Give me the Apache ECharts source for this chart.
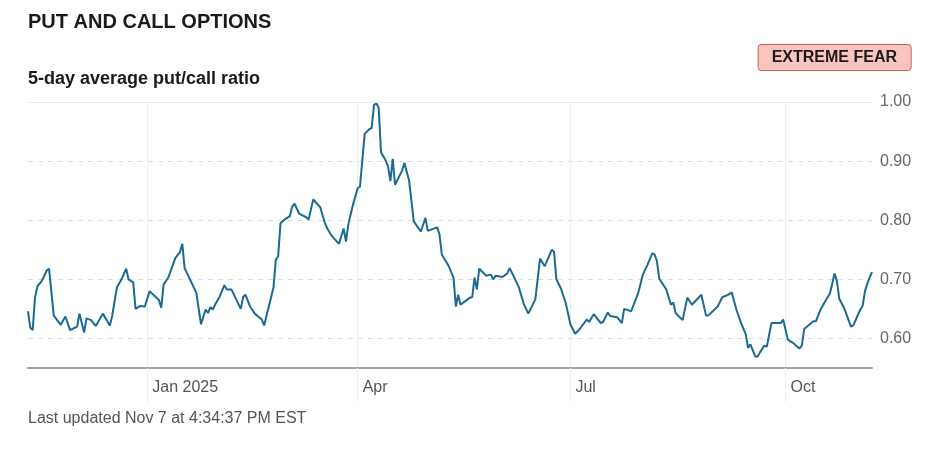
<!DOCTYPE html>
<html>
<head>
<meta charset="utf-8">
<script src="https://cdn.jsdelivr.net/npm/echarts@6/dist/echarts.min.js"></script>
<style>
  html, body { margin: 0; padding: 0; background: #fff; }
  #chart { width: 936px; height: 454px; }
</style>
</head>
<body>
<div id="chart"></div>
<script>
// one point per visible kink of the line
var dates = [
  '2024-11-11', '2024-11-12', '2024-11-13', '2024-11-14', '2024-11-15', '2024-11-17', '2024-11-19', '2024-11-20',
  '2024-11-22', '2024-11-25', '2024-11-27', '2024-11-29', '2024-12-02', '2024-12-03', '2024-12-05', '2024-12-06',
  '2024-12-08', '2024-12-10', '2024-12-13', '2024-12-16', '2024-12-17', '2024-12-19', '2024-12-21', '2024-12-23',
  '2024-12-24', '2024-12-26', '2024-12-27', '2024-12-29', '2024-12-31', '2025-01-02', '2025-01-06', '2025-01-07',
  '2025-01-08', '2025-01-10', '2025-01-13', '2025-01-15', '2025-01-16', '2025-01-17', '2025-01-20', '2025-01-22',
  '2025-01-24', '2025-01-26', '2025-01-27', '2025-01-28', '2025-01-29', '2025-01-30', '2025-02-01', '2025-02-03',
  '2025-02-04', '2025-02-06', '2025-02-10', '2025-02-11', '2025-02-12', '2025-02-14', '2025-02-16', '2025-02-19',
  '2025-02-20', '2025-02-24', '2025-02-25', '2025-02-26', '2025-02-27', '2025-03-01', '2025-03-03', '2025-03-04',
  '2025-03-05', '2025-03-07', '2025-03-08', '2025-03-10', '2025-03-11', '2025-03-13', '2025-03-16', '2025-03-18',
  '2025-03-19', '2025-03-21', '2025-03-24', '2025-03-26', '2025-03-27', '2025-03-28', '2025-03-30', '2025-04-01',
  '2025-04-02', '2025-04-04', '2025-04-06', '2025-04-07', '2025-04-08', '2025-04-09', '2025-04-10', '2025-04-11',
  '2025-04-13', '2025-04-14', '2025-04-15', '2025-04-16', '2025-04-17', '2025-04-20', '2025-04-21', '2025-04-23',
  '2025-04-25', '2025-04-28', '2025-04-30', '2025-05-01', '2025-05-05', '2025-05-06', '2025-05-07', '2025-05-10',
  '2025-05-12', '2025-05-13', '2025-05-14', '2025-05-15', '2025-05-19', '2025-05-20', '2025-05-21', '2025-05-22',
  '2025-05-23', '2025-05-26', '2025-05-28', '2025-05-29', '2025-05-30', '2025-06-02', '2025-06-04', '2025-06-05',
  '2025-06-07', '2025-06-09', '2025-06-11', '2025-06-13', '2025-06-16', '2025-06-18', '2025-06-20', '2025-06-23',
  '2025-06-24', '2025-06-25', '2025-06-27', '2025-06-29', '2025-07-01', '2025-07-03', '2025-07-05', '2025-07-08',
  '2025-07-09', '2025-07-11', '2025-07-14', '2025-07-15', '2025-07-17', '2025-07-18', '2025-07-21', '2025-07-23',
  '2025-07-24', '2025-07-27', '2025-07-30', '2025-08-01', '2025-08-03', '2025-08-05', '2025-08-06', '2025-08-07',
  '2025-08-08', '2025-08-11', '2025-08-13', '2025-08-14', '2025-08-15', '2025-08-18', '2025-08-20', '2025-08-22',
  '2025-08-26', '2025-08-28', '2025-08-29', '2025-09-02', '2025-09-04', '2025-09-06', '2025-09-08', '2025-09-09',
  '2025-09-10', '2025-09-12', '2025-09-14', '2025-09-15', '2025-09-16', '2025-09-18', '2025-09-19', '2025-09-20',
  '2025-09-22', '2025-09-23', '2025-09-25', '2025-09-27', '2025-09-29', '2025-09-30', '2025-10-02', '2025-10-04',
  '2025-10-07', '2025-10-08', '2025-10-09', '2025-10-12', '2025-10-13', '2025-10-14', '2025-10-16', '2025-10-18',
  '2025-10-20', '2025-10-22', '2025-10-23', '2025-10-24', '2025-10-26', '2025-10-29', '2025-10-30', '2025-11-02',
  '2025-11-03', '2025-11-04', '2025-11-05', '2025-11-07'
];
var ratio = [
  0.646, 0.618, 0.614, 0.669, 0.688, 0.698, 0.715, 0.718,
  0.639, 0.623, 0.637, 0.614, 0.620, 0.642, 0.610, 0.634,
  0.631, 0.621, 0.642, 0.622, 0.638, 0.686, 0.700, 0.718,
  0.700, 0.695, 0.650, 0.655, 0.654, 0.680, 0.665, 0.652,
  0.691, 0.703, 0.736, 0.746, 0.760, 0.719, 0.694, 0.677,
  0.624, 0.649, 0.643, 0.653, 0.649, 0.657, 0.671, 0.690,
  0.683, 0.683, 0.650, 0.670, 0.674, 0.654, 0.642, 0.632,
  0.622, 0.686, 0.733, 0.739, 0.795, 0.802, 0.807, 0.823,
  0.828, 0.811, 0.809, 0.805, 0.801, 0.835, 0.822, 0.795,
  0.786, 0.773, 0.760, 0.786, 0.764, 0.793, 0.826, 0.854,
  0.857, 0.946, 0.954, 0.956, 0.995, 0.998, 0.990, 0.915,
  0.901, 0.891, 0.866, 0.904, 0.860, 0.884, 0.897, 0.867,
  0.798, 0.781, 0.804, 0.782, 0.788, 0.776, 0.742, 0.722,
  0.703, 0.654, 0.674, 0.657, 0.669, 0.670, 0.703, 0.683,
  0.718, 0.706, 0.708, 0.700, 0.706, 0.704, 0.710, 0.719,
  0.703, 0.686, 0.659, 0.642, 0.666, 0.735, 0.722, 0.750,
  0.747, 0.700, 0.684, 0.660, 0.624, 0.608, 0.616, 0.632,
  0.628, 0.641, 0.626, 0.628, 0.644, 0.638, 0.636, 0.626,
  0.650, 0.646, 0.677, 0.708, 0.725, 0.744, 0.742, 0.731,
  0.701, 0.683, 0.657, 0.661, 0.643, 0.631, 0.669, 0.657,
  0.674, 0.639, 0.639, 0.654, 0.670, 0.673, 0.678, 0.663,
  0.649, 0.626, 0.607, 0.584, 0.590, 0.570, 0.569, 0.576,
  0.588, 0.586, 0.626, 0.626, 0.626, 0.632, 0.598, 0.593,
  0.583, 0.588, 0.616, 0.626, 0.629, 0.629, 0.649, 0.663,
  0.676, 0.710, 0.697, 0.667, 0.652, 0.620, 0.622, 0.649,
  0.655, 0.680, 0.693, 0.712
];
var monthNames = ['Jan', 'Feb', 'Mar', 'Apr', 'May', 'Jun', 'Jul', 'Aug', 'Sep', 'Oct', 'Nov', 'Dec'];

var chart = echarts.init(document.getElementById('chart'));
var font = 'Liberation Sans, Arial, sans-serif';

var option = {
  animation: false,
  textStyle: { fontFamily: font },
  title: [
    {
      text: 'PUT AND CALL OPTIONS',
      left: 28, top: 12, padding: 0,
      textStyle: { fontSize: 20, fontWeight: 'bold', color: '#1a1a1a', fontFamily: font }
    },
    {
      text: '5-day average put/call ratio',
      left: 28, top: 70, padding: 0,
      textStyle: { fontSize: 18, fontWeight: 'bold', color: '#1a1a1a', fontFamily: font }
    },
    {
      text: 'EXTREME FEAR',
      right: 25, top: 44,
      padding: [6, 14, 5, 14],
      backgroundColor: '#f9c3bf',
      borderColor: '#c9605a',
      borderWidth: 1,
      borderRadius: 3,
      textStyle: { fontSize: 16, fontWeight: 'bold', color: '#1a1a1a', fontFamily: font }
    },
    {
      text: 'Last updated Nov 7 at 4:34:37 PM EST',
      left: 28, top: 411, padding: 0,
      textStyle: { fontSize: 16, fontWeight: 'normal', color: '#555', fontFamily: font }
    }
  ],
  grid: { left: 28, right: 64, top: 102, bottom: 86 },
  xAxis: {
    type: 'time',
    min: '2024-11-11',
    max: '2025-11-07',
    splitNumber: 3,
    axisLine: { lineStyle: { color: '#a3a3a3', width: 2 } },
    axisTick: { show: true, length: 34, lineStyle: { color: '#eeeeee', width: 1 } },
    axisLabel: {
      color: '#555',
      fontSize: 16,
      align: 'left',
      margin: 12,
      padding: [0, 0, 0, 5],
      showMinLabel: false,
      showMaxLabel: false,
      formatter: function (val) {
        var d = new Date(val);
        var m = d.getMonth();
        return m === 0 ? 'Jan ' + d.getFullYear() : monthNames[m];
      }
    },
    splitLine: { show: true, showMinLine: false, showMaxLine: false, lineStyle: { color: '#eeeeee', width: 1 } }
  },
  yAxis: {
    type: 'value',
    position: 'right',
    min: 0.55,
    max: 1.0,
    splitNumber: 5,
    axisLine: { show: false },
    axisTick: { show: false },
    axisLabel: {
      color: '#666',
      fontSize: 16,
      margin: 8,
      showMinLabel: false,
      formatter: function (v) { return v.toFixed(2); }
    },
    splitLine: { showMaxLine: false, lineStyle: { color: '#dddddd', type: [5, 5], width: 1 } }
  },
  series: [{
    type: 'line',
    symbol: 'none',
    smooth: false,
    lineStyle: { color: '#1b6a93', width: 2 },
    markLine: {
      silent: true,
      symbol: 'none',
      label: { show: false },
      lineStyle: { color: '#e8e8e8', type: 'solid', width: 1 },
      data: [{ yAxis: 1.0 }]
    },
    data: dates.map(function (d, i) { return [d, ratio[i]]; })
  }]
};
chart.setOption(option);
</script>
</body>
</html>
